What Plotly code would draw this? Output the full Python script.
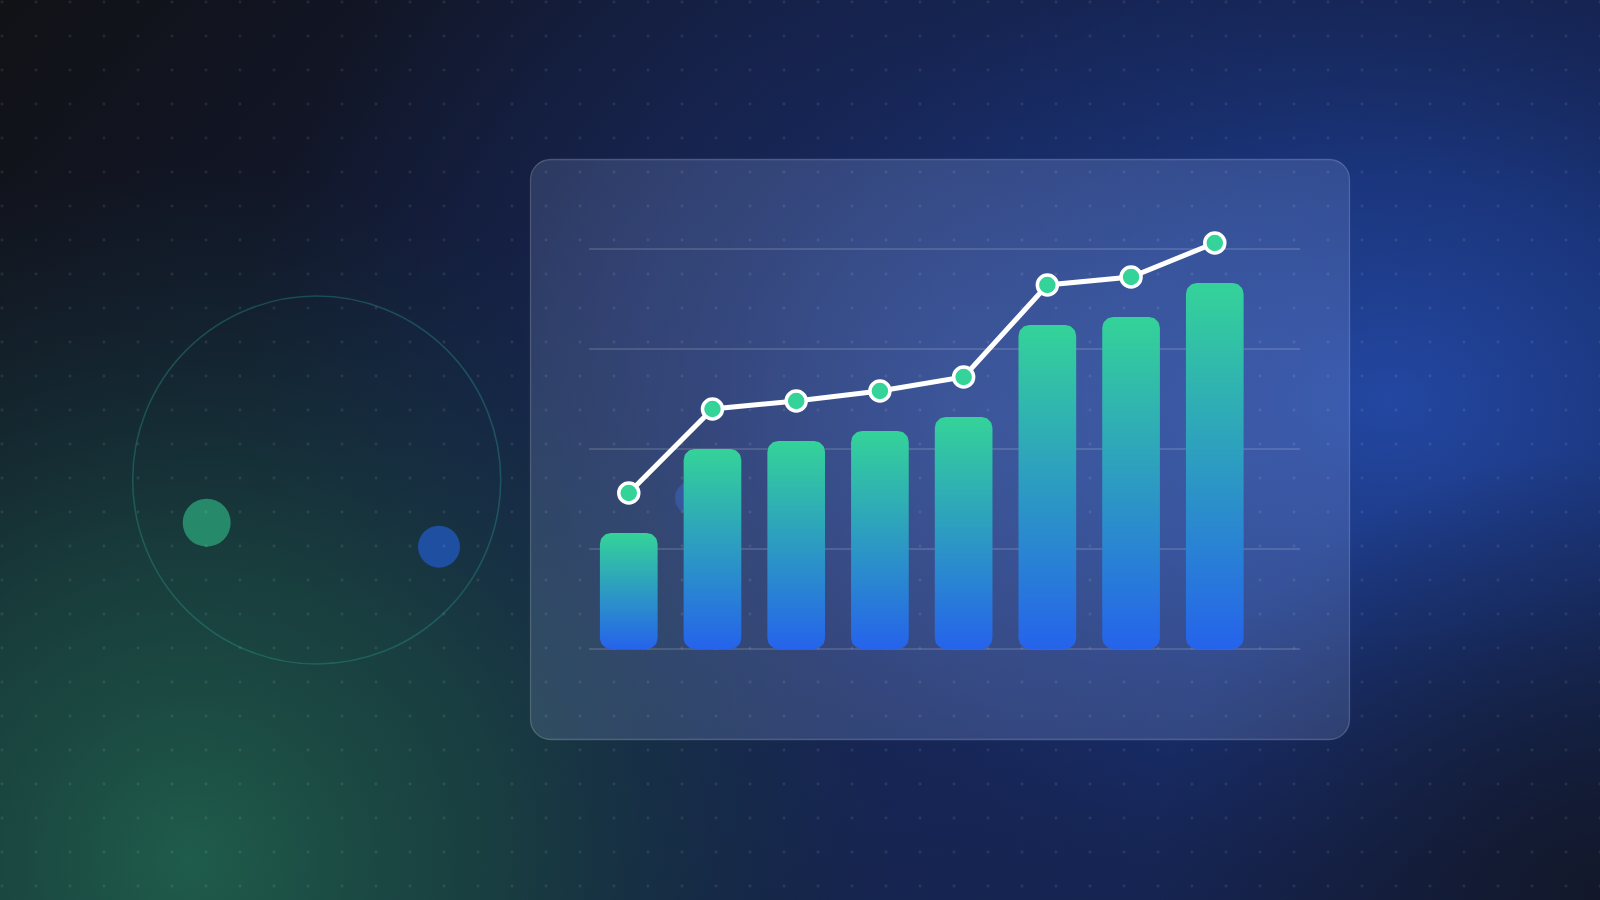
import base64
import numpy as np
import plotly.graph_objects as go

# ---- data ----
categories = [0, 1, 2, 3, 4, 5, 6, 7]
bar_values = [29, 50, 52, 54.5, 58, 81, 83, 91.5]
line_values = [39, 60, 62, 64.5, 68, 91, 93, 101.5]
y_ticks = [0, 25, 50, 75, 100]

W, H = 1600, 900
X_RANGE = [-0.475, 8.018]
Y_RANGE = [-4, 106]
ML, MR = 589, 300
PW = W - ML - MR
px_x = PW / (X_RANGE[1] - X_RANGE[0])
px_y = 4.0
PH = int(round((Y_RANGE[1] - Y_RANGE[0]) * px_y))
MT = int(round(249 - (Y_RANGE[1] - 100) * px_y))
MB = H - MT - PH

# ---- background as svg ----
svg = f'''<svg xmlns="http://www.w3.org/2000/svg" width="{W}" height="{H}" viewBox="0 0 {W} {H}">
<defs>
<linearGradient id="base" x1="0" y1="0" x2="1" y2="0.5">
<stop offset="0" stop-color="#111216"/>
<stop offset="0.45" stop-color="#121a38"/>
<stop offset="1" stop-color="#15224c"/>
</linearGradient>
<radialGradient id="blue" cx="1390" cy="400" r="760" gradientUnits="userSpaceOnUse" gradientTransform="translate(1390 400) scale(1 0.75) translate(-1390 -400)">
<stop offset="0" stop-color="#2449a6" stop-opacity="0.95"/>
<stop offset="0.4" stop-color="#1c3b8a" stop-opacity="0.75"/>
<stop offset="0.75" stop-color="#172c6a" stop-opacity="0.35"/>
<stop offset="1" stop-color="#111a3a" stop-opacity="0"/>
</radialGradient>
<radialGradient id="blue2" cx="950" cy="380" r="700" gradientUnits="userSpaceOnUse">
<stop offset="0" stop-color="#1d3478" stop-opacity="0.75"/>
<stop offset="1" stop-color="#1d3478" stop-opacity="0"/>
</radialGradient>
<radialGradient id="green" cx="190" cy="860" r="700" gradientUnits="userSpaceOnUse">
<stop offset="0" stop-color="#1f5c4a" stop-opacity="1"/>
<stop offset="0.45" stop-color="#1b4a40" stop-opacity="0.7"/>
<stop offset="1" stop-color="#15303a" stop-opacity="0"/>
</radialGradient>
<radialGradient id="dark" cx="1600" cy="900" r="450" gradientUnits="userSpaceOnUse">
<stop offset="0" stop-color="#121726" stop-opacity="0.9"/>
<stop offset="1" stop-color="#121726" stop-opacity="0"/>
</radialGradient>
<radialGradient id="panelglow" cx="980" cy="420" r="560" gradientUnits="userSpaceOnUse">
<stop offset="0" stop-color="#6a8ee0" stop-opacity="0.22"/>
<stop offset="1" stop-color="#6a8ee0" stop-opacity="0"/>
</radialGradient>
<pattern id="dots" x="0" y="0" width="34" height="34" patternUnits="userSpaceOnUse">
<circle cx="2" cy="2" r="1.4" fill="#ffffff" fill-opacity="0.09"/>
</pattern>
</defs>
<rect width="{W}" height="{H}" fill="url(#base)"/>
<rect width="{W}" height="{H}" fill="url(#blue2)"/>
<rect width="{W}" height="{H}" fill="url(#blue)"/>
<rect width="{W}" height="{H}" fill="url(#green)"/>
<rect width="{W}" height="{H}" fill="url(#dark)"/>
<circle cx="316.7" cy="480" r="184" fill="none" stroke="#2a9d8f" stroke-opacity="0.35" stroke-width="1.6"/>
<circle cx="206.7" cy="522.7" r="24" fill="#25896a"/>
<circle cx="439" cy="546.7" r="21" fill="#1f4fa0"/>
<circle cx="692" cy="498" r="17" fill="#2563eb" fill-opacity="0.35"/>
<rect x="530.5" y="159.5" width="819" height="580" rx="20" ry="20" fill="#a8bcf0" fill-opacity="0.16" stroke="#ffffff" stroke-opacity="0.2" stroke-width="1.3"/>
<rect x="530.5" y="159.5" width="819" height="580" rx="20" ry="20" fill="url(#panelglow)"/>
<rect width="{W}" height="{H}" fill="url(#dots)"/>
</svg>'''
src = "data:image/svg+xml;base64," + base64.b64encode(svg.encode()).decode()

fig = go.Figure()


def rounded_bar(xc, h, w=0.689, rpx=11, n=12):
    rx, ry = rpx / px_x, rpx / px_y
    ry = min(ry, h / 2)
    xs, ys = [], []
    corners = [((xc + w / 2 - rx, h - ry), 0, 90),
               ((xc - w / 2 + rx, h - ry), 90, 180),
               ((xc - w / 2 + rx, ry), 180, 270),
               ((xc + w / 2 - rx, ry), 270, 360)]
    for (cx, cy), a0, a1 in corners:
        t = np.radians(np.linspace(a0, a1, n))
        xs.extend(cx + rx * np.cos(t))
        ys.extend(cy + ry * np.sin(t))
    xs.append(xs[0]); ys.append(ys[0])
    return xs, ys


for c, v in zip(categories, bar_values):
    bx, by = rounded_bar(c, v)
    fig.add_trace(go.Scatter(
        x=bx, y=by, mode="lines", fill="toself",
        line=dict(width=0, color="rgba(0,0,0,0)"),
        fillgradient=dict(type="vertical",
                          colorscale=[[0, "#2563eb"], [1, "#34d399"]]),
        hoverinfo="skip", showlegend=False))

fig.add_trace(go.Scatter(
    x=categories, y=line_values, mode="lines+markers",
    line=dict(color="#ffffff", width=5),
    marker=dict(size=20, color="#34d399", line=dict(color="#ffffff", width=3.5)),
    cliponaxis=False, showlegend=False))

fig.update_layout(
    width=W, height=H,
    margin=dict(l=ML, r=MR, t=MT, b=MB, pad=0),
    paper_bgcolor="#111216", plot_bgcolor="rgba(0,0,0,0)",
    xaxis=dict(range=X_RANGE, showgrid=False, zeroline=False,
               showticklabels=False, fixedrange=True),
    yaxis=dict(range=Y_RANGE, tickvals=y_ticks, showgrid=True,
               gridcolor="rgba(255,255,255,0.13)", gridwidth=1.5,
               zeroline=False, showticklabels=False, fixedrange=True),
    images=[dict(source=src, xref="paper", yref="paper",
                 x=-ML / PW, y=1 + MT / PH, sizex=W / PW, sizey=H / PH,
                 xanchor="left", yanchor="top", sizing="stretch",
                 layer="below")],
)

fig.write_html("out.html", config={"displayModeBar": False},
               post_script="document.body.style.margin='0';document.body.style.overflow='hidden';")
